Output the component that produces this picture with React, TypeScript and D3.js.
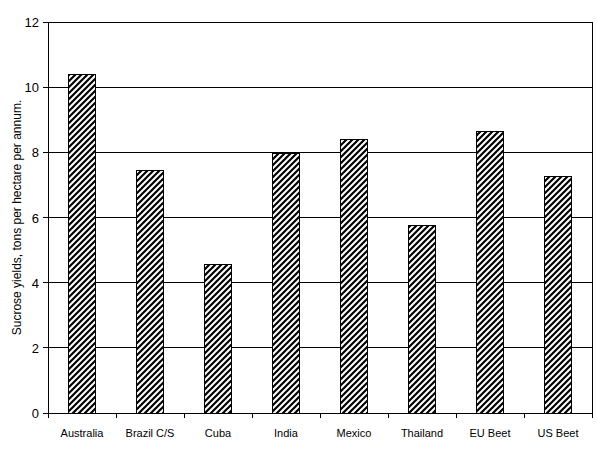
import React from "react";
import * as d3 from "d3";

const categories = ["Australia", "Brazil C/S", "Cuba", "India", "Mexico", "Thailand", "EU Beet", "US Beet"];
const values = [10.4, 7.45, 4.55, 7.95, 8.4, 5.75, 8.65, 7.27];
const yTicks = [0, 2, 4, 6, 8, 10, 12];

export default function App() {
  const W = 597, H = 451;
  const left = 48, right = 592, top = 22, bottom = 413;
  const x = d3.scaleBand<string>().domain(categories).range([left, right]).paddingInner(0.6).paddingOuter(0.3);
  const xb = d3.scaleBand<string>().domain(categories).range([left, right]);
  const y = d3.scaleLinear().domain([0, 12]).range([bottom, top]);
  const font = "Liberation Sans, Arial, sans-serif";
  return (
    <div style={{ position: "absolute", left: 0, top: 0 }}>
      <svg width={W} height={H} style={{ display: "block", background: "#fff" }}>
        <defs>
          <pattern id="hatch" patternUnits="userSpaceOnUse" width={6} height={6}>
            <rect width={6} height={6} fill="#fff" />
            <path d="M-1,7 L7,-1 M-4,4 L4,-4 M2,10 L10,2" stroke="#000" strokeWidth={2.2} />
          </pattern>
        </defs>
        {yTicks.map(t => (
          <g key={t}>
            <line x1={left - 5} x2={right} y1={y(t)} y2={y(t)} stroke="#000" strokeWidth={1} shapeRendering="crispEdges" />
            <text x={left - 9} y={y(t) + 5} textAnchor="end" fontFamily={font} fontSize={13} fill="#000">{t}</text>
          </g>
        ))}
        <line x1={left} x2={left} y1={top} y2={bottom} stroke="#000" shapeRendering="crispEdges" />
        <line x1={right} x2={right} y1={top} y2={bottom} stroke="#000" shapeRendering="crispEdges" />
        {categories.map((c, i) => (
          <g key={c}>
            <line x1={xb(c)!} x2={xb(c)!} y1={bottom} y2={bottom + 5} stroke="#000" shapeRendering="crispEdges" />
            <rect x={x(c)!} width={x.bandwidth()} y={y(values[i])} height={bottom - y(values[i])} fill="url(#hatch)" stroke="#000" strokeWidth={1} shapeRendering="crispEdges" />
            <text x={xb(c)! + xb.bandwidth() / 2} y={437} textAnchor="middle" fontFamily={font} fontSize={11} fill="#000">{c}</text>
          </g>
        ))}
        <line x1={right} x2={right} y1={bottom} y2={bottom + 5} stroke="#000" shapeRendering="crispEdges" />
        <text transform={`translate(21,${(top + bottom) / 2}) rotate(-90)`} textAnchor="middle" fontFamily={font} fontSize={12} fill="#000">Sucrose yields, tons per hectare per annum.</text>
      </svg>
    </div>
  );
}
